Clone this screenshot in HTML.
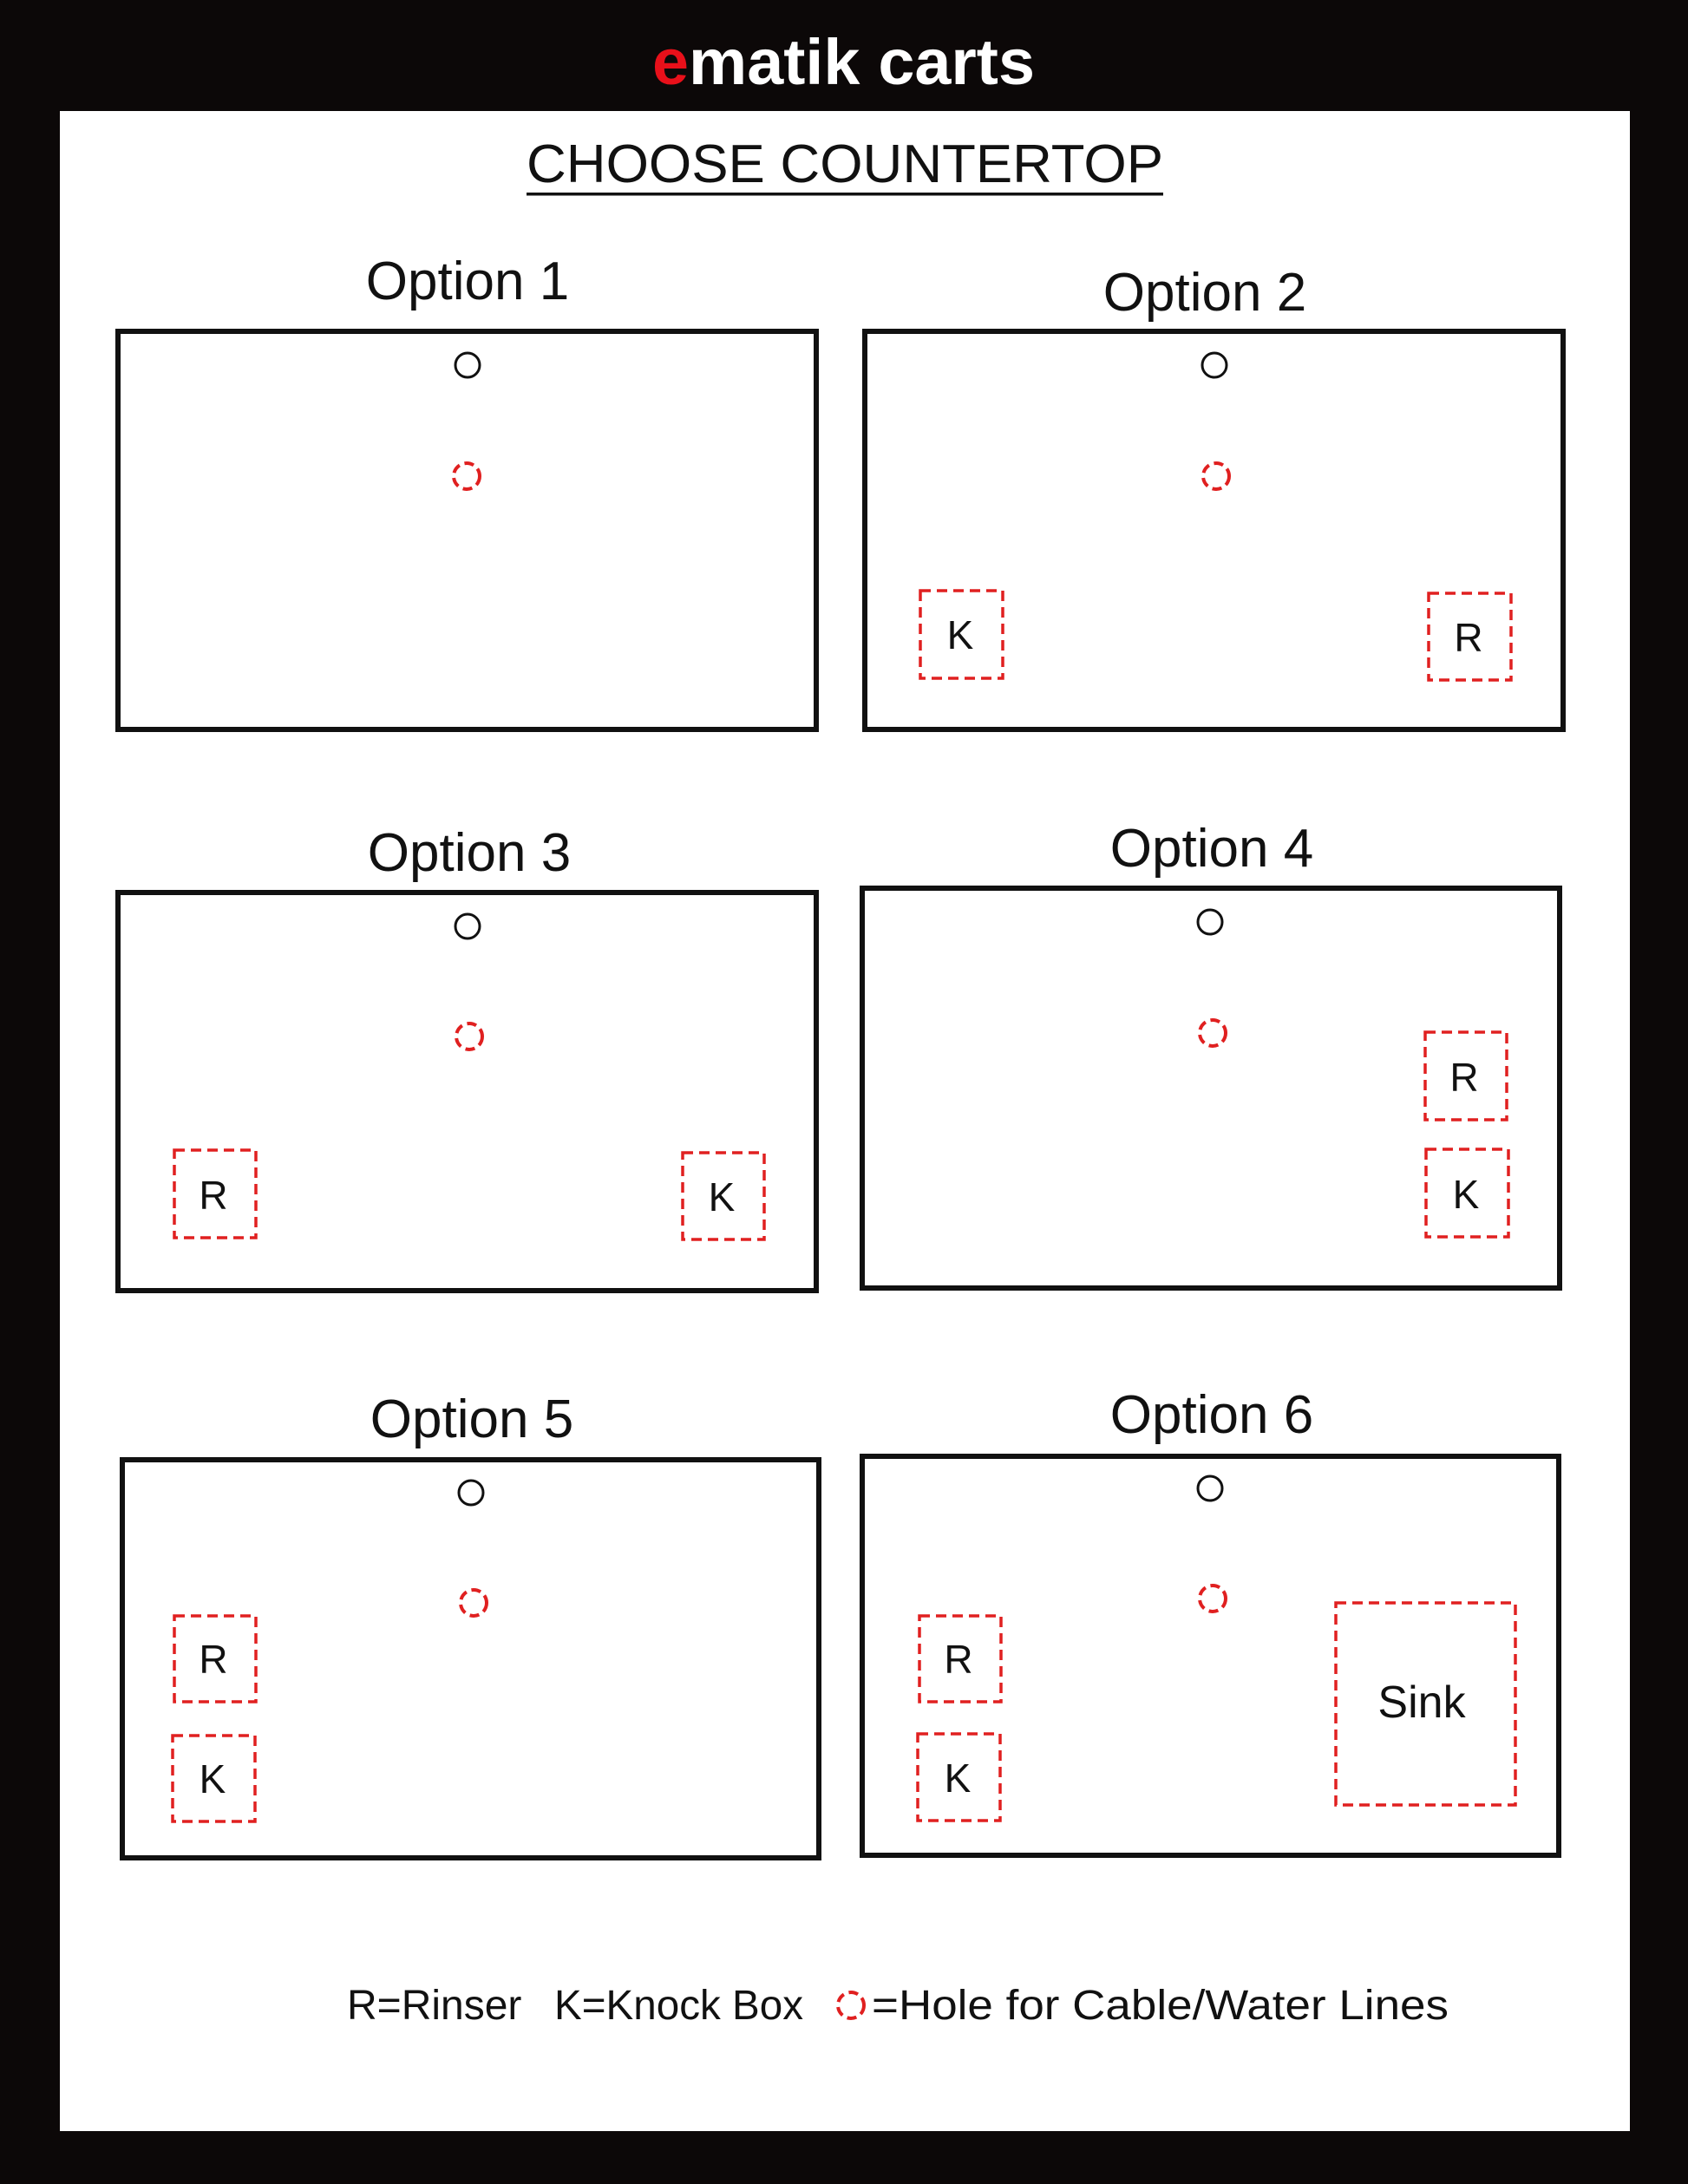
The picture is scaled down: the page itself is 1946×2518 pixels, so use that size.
<!DOCTYPE html>
<html><head><meta charset="utf-8"><style>
html,body{margin:0;padding:0;background:#0c0808;}
svg{display:block;}
text{font-family:"Liberation Sans",sans-serif;}
</style></head><body>
<svg width="1946" height="2518" viewBox="0 0 1946 2518" xmlns="http://www.w3.org/2000/svg">
<rect width="1946" height="2518" fill="#0c0808"/>
<rect x="69" y="128" width="1810" height="2329" fill="#fff"/>
<text x="752" y="97" font-size="74" font-weight="bold" fill="#fff" textLength="441" lengthAdjust="spacingAndGlyphs"><tspan fill="#e8101a">e</tspan>matik carts</text>
<text x="607" y="210" font-size="62" fill="#111" textLength="734" lengthAdjust="spacingAndGlyphs">CHOOSE COUNTERTOP</text>
<rect x="607" y="222" width="734" height="3.5" fill="#111"/>
<g fill="none" stroke="#111" stroke-width="6">
<rect x="136" y="382" width="805" height="459"/>
<rect x="997" y="382" width="805" height="459"/>
<rect x="136" y="1029" width="805" height="459"/>
<rect x="994" y="1024" width="804" height="461"/>
<rect x="141" y="1683" width="803" height="459"/>
<rect x="994" y="1679" width="803" height="460"/>
</g>
<g font-size="62" text-anchor="middle" fill="#111">
<text x="539" y="345">Option 1</text>
<text x="1389" y="358">Option 2</text>
<text x="541" y="1004">Option 3</text>
<text x="1397" y="999">Option 4</text>
<text x="544" y="1657">Option 5</text>
<text x="1397" y="1652">Option 6</text>
</g>
<g fill="none" stroke="#111" stroke-width="3">
<circle cx="539" cy="421" r="14"/>
<circle cx="1400" cy="421" r="14"/>
<circle cx="539" cy="1068" r="14"/>
<circle cx="1395" cy="1063" r="14"/>
<circle cx="543" cy="1721" r="14"/>
<circle cx="1395" cy="1716" r="14"/>
</g>
<g fill="none" stroke="#e02020" stroke-width="4" stroke-dasharray="11 6">
<circle cx="538" cy="549" r="15"/>
<circle cx="1402" cy="549" r="15"/>
<circle cx="541" cy="1195" r="15"/>
<circle cx="1398" cy="1191" r="15"/>
<circle cx="546" cy="1848" r="15"/>
<circle cx="1398" cy="1843" r="15"/>
<circle cx="981" cy="2312" r="15"/>
</g>
<g fill="none" stroke="#e02020" stroke-width="3.5" stroke-dasharray="12 7">
<rect x="1061" y="681" width="95" height="101"/>
<rect x="1647" y="684" width="95" height="100"/>
<rect x="201" y="1326" width="94" height="101"/>
<rect x="787" y="1329" width="94" height="100"/>
<rect x="1643" y="1190" width="94" height="101"/>
<rect x="1644" y="1325" width="95" height="101"/>
<rect x="201" y="1863" width="94" height="99"/>
<rect x="199" y="2001" width="95" height="99"/>
<rect x="1060" y="1863" width="94" height="99"/>
<rect x="1058" y="1999" width="95" height="100"/>
<rect x="1540" y="1848" width="207" height="233"/>
</g>
<g font-size="46" text-anchor="middle" fill="#111">
<text x="1107" y="748">K</text>
<text x="1693" y="751">R</text>
<text x="246" y="1394">R</text>
<text x="832" y="1396">K</text>
<text x="1688" y="1258">R</text>
<text x="1690" y="1393">K</text>
<text x="246" y="1929">R</text>
<text x="245" y="2067">K</text>
<text x="1105" y="1929">R</text>
<text x="1104" y="2066">K</text>
<text x="1639" y="1980" font-size="52">Sink</text>
</g>
<g font-size="48" fill="#111">
<text x="400" y="2328">R=Rinser</text>
<text x="639" y="2328" textLength="287" lengthAdjust="spacingAndGlyphs">K=Knock Box</text>
<text x="1005" y="2328" textLength="665" lengthAdjust="spacingAndGlyphs">=Hole for Cable/Water Lines</text>
</g>
</svg>
</body></html>
